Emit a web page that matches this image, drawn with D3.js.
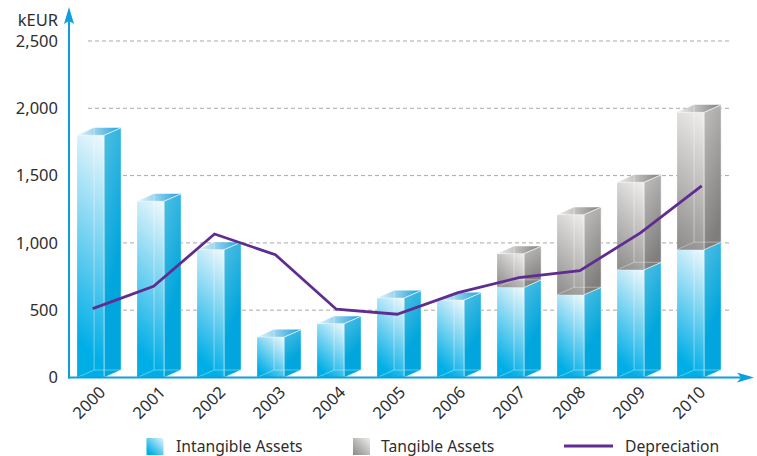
<!DOCTYPE html>
<html><head><meta charset="utf-8">
<script src="https://cdn.jsdelivr.net/npm/d3@7"></script>
<style>html,body{margin:0;background:#fff}svg{display:block}text{font-family:"Noto Sans",sans-serif;fill:#2e2e2e}</style>
</head><body><svg id="c" width="757" height="456"></svg>
<script>
const years = ["2000","2001","2002","2003","2004","2005","2006","2007","2008","2009","2010"];
const intangible = [1800,1310,950,300,400,590,575,670,615,800,950];
const tangible = [0,0,0,0,0,0,0,250,595,650,1020];
const depreciation = [512,677,1066,912,507,470,630,742,794,1076,1424];
const yTicks = [0,500,1000,1500,2000,2500];
const legendLabels = ["Intangible Assets","Tangible Assets","Depreciation"];

const svg = d3.select("#c");
const blue = "#0f9fdc";
const y = d3.scaleLinear().domain([0,2500]).range([377.5,41]);
const x = d3.scaleBand().domain(years).range([60.6,720.6]).paddingInner(0.55).paddingOuter(0.275);
const lx = d3.scalePoint().domain(years).range([92.7,701.7]);
const depthX = 17, depthY = 7.5;

const defs = svg.append("defs");
function grad(id, c0, c1, mid, dir){
  const d = dir || [0,0,1,1];
  const g = defs.append("linearGradient").attr("id",id)
    .attr("x1",d[0]).attr("y1",d[1]).attr("x2",d[2]).attr("y2",d[3]);
  g.append("stop").attr("offset",0).attr("stop-color",c0);
  g.append("stop").attr("offset",mid).attr("stop-color",c1);
}
grad("bs","#52bee2","#00a6dd",0.7,[0,0,0.3,1]);
grad("bt","#eaf5fb","#1c9fdb",1,[0,0,1,0]);
grad("gs","#c0bfbe","#7f7e7d",1,[0,0,0.3,1]);
grad("gt","#f0efee","#7f7e7d",1,[0,0,1,0]);

// gridlines
const grid = svg.append("g");
grid.selectAll("line").data(yTicks.slice(1)).join("line")
  .attr("x1",88).attr("x2",729)
  .attr("y1",d=>y(d)).attr("y2",d=>y(d))
  .attr("stroke","#a9a9a9").attr("stroke-width",1).attr("stroke-dasharray","4 3");

// bars
let gid = 0;
function frontGradient(xl, yt, yb, w, kind){
  const id = "f" + (gid++), h = yb - yt, t = (w + h) / 2;
  const g = defs.append("linearGradient").attr("id",id).attr("gradientUnits","userSpaceOnUse")
    .attr("x1",xl+w).attr("y1",yt).attr("x2",xl+w-t).attr("y2",yt+t);
  if (kind === "b") {
    g.append("stop").attr("offset",0).attr("stop-color","#f2f9fd");
    g.append("stop").attr("offset",0.86).attr("stop-color","#00aee6");
  } else {
    g.append("stop").attr("offset",0).attr("stop-color","#f0efee");
    g.append("stop").attr("offset",1).attr("stop-color","#8c8b89");
  }
  return id;
}
function box(g, xl, v0, v1, kind){
  const w = x.bandwidth(), yb = y(v0), yt = y(v1);
  const poly = (pts,fill)=>g.append("polygon").attr("points",pts.map(p=>p.join(",")).join(" ")).attr("fill",fill);
  poly([[xl,yb],[xl+w,yb],[xl+w,yt],[xl,yt]],`url(#${frontGradient(xl,yt,yb,w,kind)})`);
  poly([[xl+w,yb],[xl+w+depthX,yb-depthY],[xl+w+depthX,yt-depthY],[xl+w,yt]],`url(#${kind}s)`);
  poly([[xl,yt],[xl+w,yt],[xl+w+depthX,yt-depthY],[xl+depthX,yt-depthY]],`url(#${kind}t)`);
  const ln = (a,b,o)=>g.append("line").attr("x1",a[0]).attr("y1",a[1]).attr("x2",b[0]).attr("y2",b[1])
    .attr("stroke","#fff").attr("stroke-opacity",o).attr("stroke-width",0.9);
  // hidden edges
  ln([xl+depthX,yb-depthY],[xl+depthX,yt-depthY],0.45);
  ln([xl,yb],[xl+depthX,yb-depthY],0.4);
  ln([xl+depthX,yb-depthY],[xl+w+depthX,yb-depthY],0.4);
  // visible edges
  ln([xl+w,yb],[xl+w,yt],0.65);
  ln([xl+w,yt],[xl+w+depthX,yt-depthY],0.8);
  ln([xl+w,yb],[xl+w+depthX,yb-depthY],0.55);
  ln([xl+w+depthX,yb-depthY],[xl+w+depthX,yt-depthY],0.5);
  ln([xl,yt],[xl+w,yt],0.5);
}
const bars = svg.append("g");
years.forEach((yr,i)=>{
  const g = bars.append("g"), xl = x(yr);
  box(g, xl, 0, intangible[i], "b");
  if (tangible[i] > 0) box(g, xl, intangible[i], intangible[i]+tangible[i], "g");
});

// depreciation line
const line = d3.line().x((d,i)=>lx(years[i])).y(d=>y(d));
svg.append("path").datum(depreciation).attr("d",line).attr("fill","none")
  .attr("stroke","#5f2d91").attr("stroke-width",2.8).attr("stroke-linejoin","miter");

// axes
const yAxis = svg.append("g").attr("transform","translate(58,0)")
  .call(d3.axisLeft(y).tickValues(yTicks).tickSize(0).tickPadding(0).tickFormat(d3.format(",")));
yAxis.select(".domain").remove();
yAxis.selectAll("text").attr("font-size",16.5).style("font-family",'"Noto Sans",sans-serif').attr("fill","#2e2e2e");

const xAxis = svg.append("g").attr("transform","translate(0,377.5)")
  .call(d3.axisBottom(x).tickSize(0).tickFormat(d=>d));
xAxis.select(".domain").remove();
xAxis.selectAll("text").attr("font-size",16.5).style("font-family",'"Noto Sans",sans-serif').attr("fill","#2e2e2e")
  .attr("text-anchor","middle").attr("dy",0).attr("y",0)
  .attr("transform","translate(-2,24.5) rotate(-45)").attr("dominant-baseline","central");

svg.append("line").attr("x1",69).attr("x2",69).attr("y1",378.5).attr("y2",18).attr("stroke",blue).attr("stroke-width",2);
svg.append("line").attr("x1",68).attr("x2",742).attr("y1",377.5).attr("y2",377.5).attr("stroke",blue).attr("stroke-width",2);
svg.append("path").attr("fill",blue).attr("d",d3.line()([[69,7],[74,24],[69,21],[64,24]])+"Z");
svg.append("path").attr("fill",blue).attr("d",d3.line()([[754,377.5],[737,372.5],[741,377.5],[737,382.5]])+"Z");
svg.append("text").attr("x",58).attr("y",26).attr("text-anchor","end").attr("font-size",16.5).text("kEUR");

// legend
defs.append("linearGradient").attr("id","lb").attr("x1",1).attr("y1",0).attr("x2",0).attr("y2",1)
  .call(g=>{g.append("stop").attr("offset",0).attr("stop-color","#e6f4fb");g.append("stop").attr("offset",0.85).attr("stop-color","#00aee6");});
defs.append("linearGradient").attr("id","lg").attr("x1",1).attr("y1",0).attr("x2",0).attr("y2",1)
  .call(g=>{g.append("stop").attr("offset",0).attr("stop-color","#eeeeed");g.append("stop").attr("offset",1).attr("stop-color","#8a8988");});
svg.append("rect").attr("x",146.5).attr("y",438).attr("width",17).attr("height",17).attr("fill","url(#lb)");
svg.append("rect").attr("x",353).attr("y",438).attr("width",17).attr("height",17).attr("fill","url(#lg)");
svg.append("line").attr("x1",564).attr("x2",613).attr("y1",446).attr("y2",446).attr("stroke","#5f2d91").attr("stroke-width",2.8);
const legendX = [176,381,625];
svg.selectAll("text.lg").data(legendLabels).join("text").attr("class","lg")
  .attr("x",(d,i)=>legendX[i]).attr("y",452).attr("font-size",15.7).text(d=>d);
</script></body></html>
